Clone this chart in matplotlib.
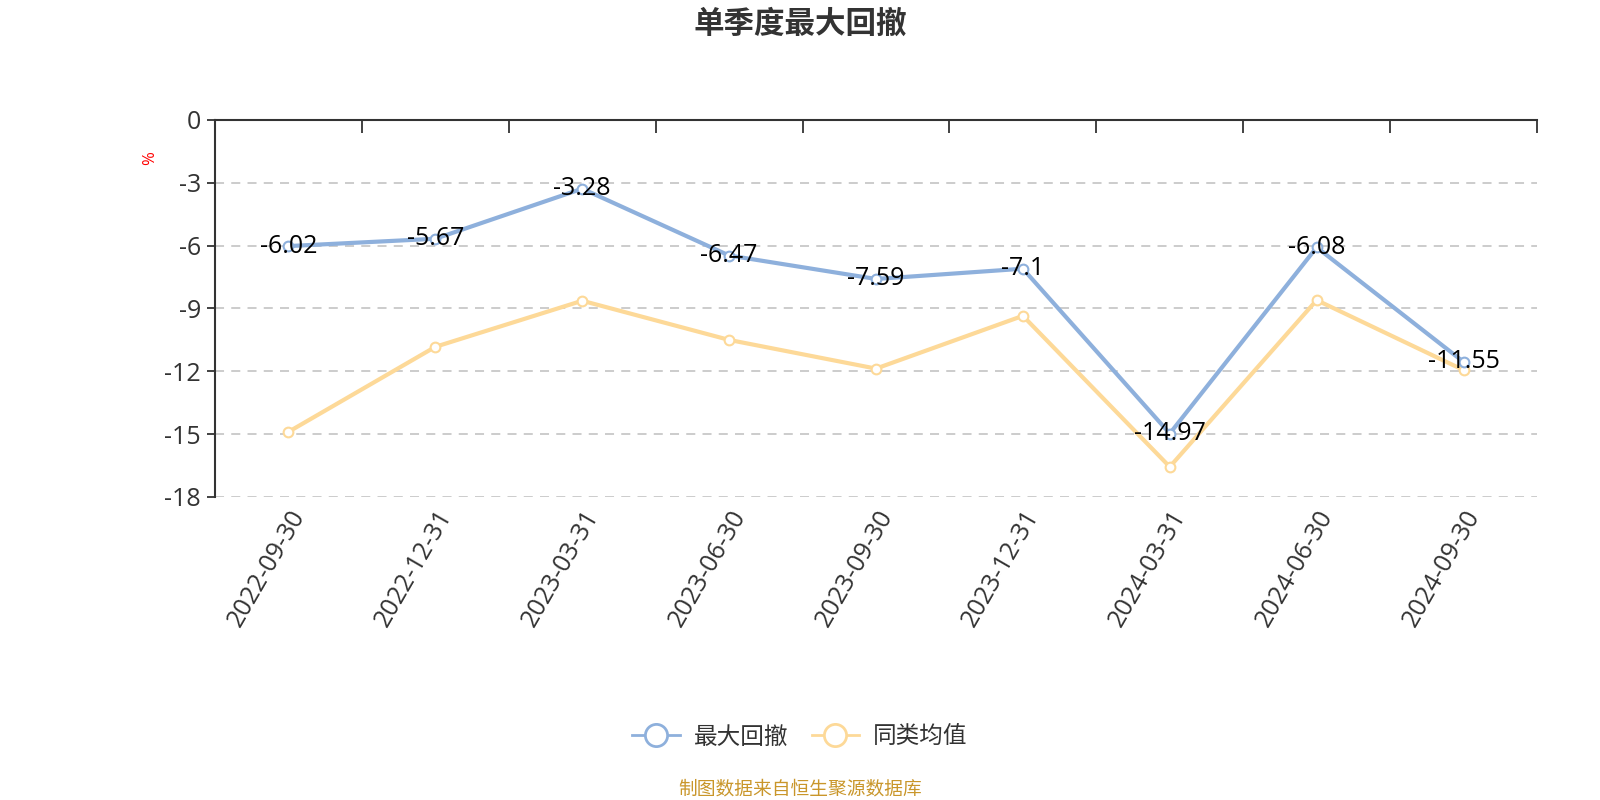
import matplotlib
matplotlib.use("Agg")
import matplotlib.pyplot as plt
from matplotlib.lines import Line2D

plt.rcParams['font.family'] = ['Open Sans', 'Noto Sans CJK SC', 'DejaVu Sans']
cjk = ['Noto Sans CJK SC', 'DejaVu Sans']

dates = ['2022-09-30', '2022-12-31', '2023-03-31', '2023-06-30', '2023-09-30',
         '2023-12-31', '2024-03-31', '2024-06-30', '2024-09-30']
max_drawdown = [-6.02, -5.67, -3.28, -6.47, -7.59, -7.1, -14.97, -6.08, -11.55]
peer_avg = [-14.89, -10.83, -8.63, -10.50, -11.87, -9.35, -16.56, -8.60, -11.94]
yticks = [0, -3, -6, -9, -12, -15, -18]
series_names = ['最大回撤', '同类均值']

blue = '#8eb0dc'
yellow = '#fdd998'
axis_col = '#333333'

fig = plt.figure(figsize=(16, 8), dpi=100)
ax = fig.add_axes([215 / 1600, 1 - 497 / 800, (1537 - 215) / 1600, (497 - 120) / 800])

x = list(range(len(dates)))
ax.plot(x, max_drawdown, color=blue, lw=3, marker='o', ms=7, mfc='white',
        mec=blue, mew=1.5, zorder=4)
ax.plot(x, peer_avg, color=yellow, lw=3, marker='o', ms=7, mfc='white',
        mec=yellow, mew=1.5, zorder=3)

for xi, v in zip(x, max_drawdown):
    ax.text(xi, v, f'{v:g}', ha='center', va='center', fontsize=18,
            color='black', zorder=5)

ax.set_xlim(-0.5, len(dates) - 0.5)
ax.set_ylim(-18, 0)
ax.set_yticks(yticks)
ax.set_yticklabels([str(t) for t in yticks], fontsize=18, color=axis_col)
for t in yticks[1:]:
    ax.axhline(t, color='#c8c8c8', lw=1.3, ls=(0, (5, 4)), zorder=1)

ax.spines['bottom'].set_visible(False)
ax.spines['right'].set_visible(False)
ax.spines['top'].set_color(axis_col)
ax.spines['top'].set_linewidth(1.5)
ax.spines['left'].set_color(axis_col)
ax.spines['left'].set_linewidth(1.5)
ax.tick_params(axis='y', length=6, width=1.3, color=axis_col, pad=4)

# category boundary ticks on top axis line pointing down
ax.set_xticks([i - 0.5 for i in range(len(dates) + 1)], minor=True)
ax.tick_params(axis='x', which='minor', top=True, bottom=False, direction='in',
               length=9, width=1.3, color=axis_col)
ax.set_xticks(x)
ax.set_xticklabels(dates, rotation=60, ha='right', rotation_mode='anchor',
                   fontsize=18, color=axis_col)
ax.tick_params(axis='x', which='major', length=0, pad=6)

fig.text(150 / 1600, 1 - 158 / 800, '%', color='red', fontsize=12,
         rotation=90, ha='center', va='center')

fig.text(0.5, 1 - 24 / 800, '单季度最大回撤', ha='center', va='center',
         fontsize=22, fontweight='bold', color=axis_col, family=cjk)

handles = [Line2D([], [], color=c, lw=2, marker='o', ms=16, mfc='white',
                  mec=c, mew=2) for c in (blue, yellow)]
leg = fig.legend(handles, series_names, loc='center',
                 bbox_to_anchor=(0.5, 1 - 737 / 800), ncol=2,
                 frameon=False, prop={'family': cjk, 'size': 17},
                 handlelength=2.0, columnspacing=1.0, handletextpad=0.6)
for t in leg.get_texts():
    t.set_color(axis_col)

fig.text(0.5, 1 - 789 / 800, '制图数据来自恒生聚源数据库', ha='center',
         va='center', fontsize=13.5, color='#c9962a', family=cjk)

fig.savefig('out.png', dpi=100)
